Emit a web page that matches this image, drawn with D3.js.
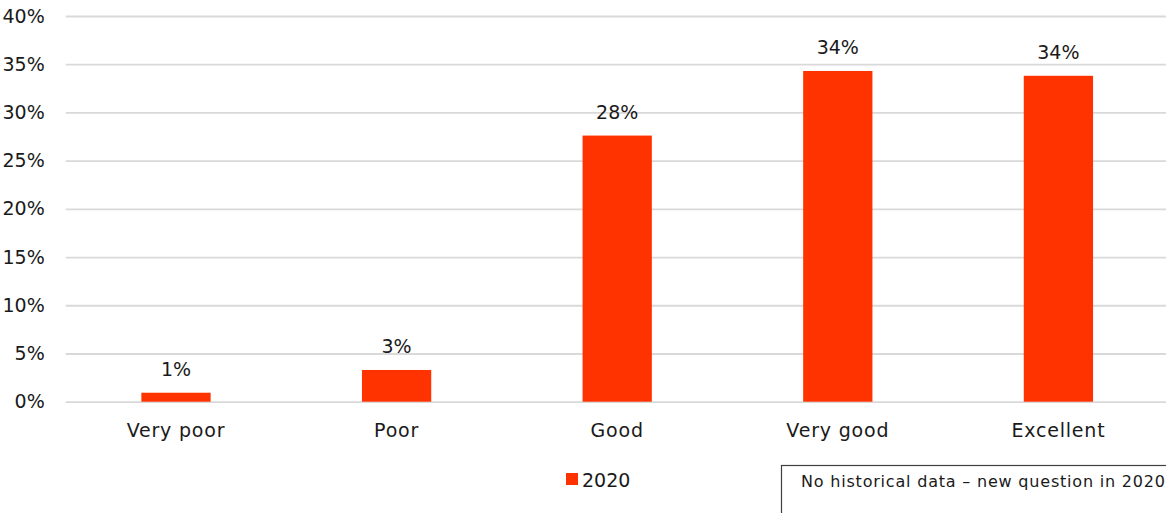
<!DOCTYPE html>
<html>
<head>
<meta charset="utf-8">
<script src="https://cdn.jsdelivr.net/npm/d3@7"></script>
<style>
  html, body { margin: 0; padding: 0; background: #ffffff; }
  svg { display: block; }
  text { font-family: "DejaVu Sans", sans-serif; fill: #1a1a1a; }
</style>
</head>
<body>
<svg id="chart" width="1166" height="513"></svg>
<script>
// Rating categories and the share of responses for 2020
const categories = ["Very poor", "Poor", "Good", "Very good", "Excellent"];
const values2020 = [0.93, 3.29, 27.6, 34.3, 33.8];
const yTicks = [0, 5, 10, 15, 20, 25, 30, 35, 40];
const seriesName = "2020";
const noteText = "No historical data \u2013 new question in 2020";

const barColor = "#ff3300";
const gridColor = "#d9d9d9";

const svg = d3.select("#chart");

const margin = { left: 65.7, right: -2.7, top: 16, bottom: 111.3 };
const W = 1166, H = 513;

const x = d3.scaleBand()
  .domain(categories)
  .range([margin.left, W - margin.right])
  .paddingInner(0.686)
  .paddingOuter(0.343);

const y = d3.scaleLinear()
  .domain([0, 40])
  .range([H - margin.bottom, margin.top]);

// Horizontal gridlines with percentage labels
const yAxis = d3.axisLeft(y)
  .tickValues(yTicks)
  .tickSize(-(W - margin.left))
  .tickPadding(21)
  .tickFormat(d => d + "%");

const gy = svg.append("g")
  .attr("transform", `translate(${margin.left},0)`)
  .call(yAxis);
gy.select(".domain").remove();
gy.selectAll(".tick line").attr("stroke", gridColor).attr("stroke-width", 1.8);
gy.selectAll(".tick text")
  .attr("font-size", 19)
  .attr("fill", "#1a1a1a")
  .style("font-family", "'DejaVu Sans', sans-serif");

// Category labels beneath the baseline
const xAxis = d3.axisBottom(x).tickSize(0).tickPadding(22);
const gx = svg.append("g")
  .attr("transform", `translate(0,${y(0)})`)
  .call(xAxis);
gx.select(".domain").remove();
gx.selectAll(".tick text")
  .attr("font-size", 19)
  .attr("fill", "#1a1a1a")
  .style("letter-spacing", "0.8px")
  .style("font-family", "'DejaVu Sans', sans-serif");

// Bars
svg.append("g")
  .selectAll("rect")
  .data(values2020)
  .join("rect")
  .attr("x", (d, i) => x(categories[i]))
  .attr("y", d => y(d))
  .attr("width", x.bandwidth())
  .attr("height", d => y(0) - y(d))
  .attr("fill", barColor);

// Value labels above each bar
svg.append("g")
  .selectAll("text")
  .data(values2020)
  .join("text")
  .attr("x", (d, i) => x(categories[i]) + x.bandwidth() / 2)
  .attr("y", d => y(d) - 17)
  .attr("text-anchor", "middle")
  .attr("font-size", 19)
  .text(d => Math.round(d) + "%");

// Legend
const legend = svg.append("g");
legend.append("rect")
  .attr("x", 566).attr("y", 473)
  .attr("width", 12).attr("height", 12)
  .attr("fill", barColor);
legend.append("text")
  .attr("x", 582).attr("y", 486.7)
  .attr("font-size", 19)
  .text(seriesName);

// Note box
const note = svg.append("g");
note.append("rect")
  .attr("x", 781.5).attr("y", 465.5)
  .attr("width", 420).attr("height", 80)
  .attr("fill", "#ffffff")
  .attr("stroke", "#404040")
  .attr("stroke-width", 1.2);
note.append("text")
  .attr("x", 801).attr("y", 487.3)
  .attr("font-size", 16)
  .style("letter-spacing", "0.8px")
  .text(noteText);
</script>
</body>
</html>
